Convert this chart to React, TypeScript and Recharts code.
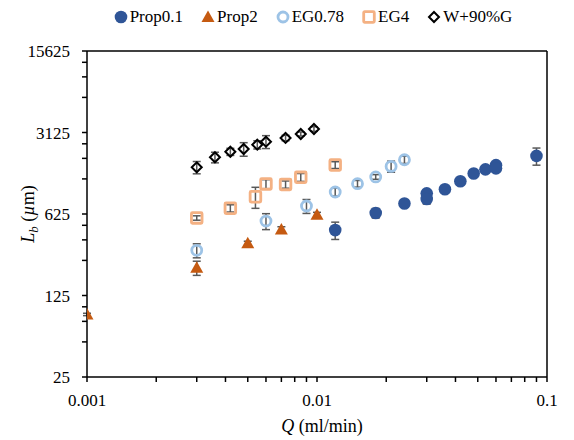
import {
  ScatterChart,
  Scatter,
  XAxis,
  YAxis,
  ErrorBar,
  Legend,
  ReferenceLine,
  Label,
} from 'recharts';

const FONT = "'Liberation Serif', 'Times New Roman', Times, serif";

// axis ticks (log axes: labelled majors + unlabelled minors)
const X_MAJOR = [0.001, 0.01, 0.1];
const Y_MAJOR = [25, 125, 625, 3125, 15625];
const X_MINOR_STEPS = [2, 3, 4, 5, 6, 7, 8, 9];
const Y_MINOR_STEPS = [2, 3, 4];

// Prop0.1
const PROP01_Q = [0.012, 0.018, 0.024, 0.03, 0.03, 0.036, 0.042, 0.048, 0.054, 0.06, 0.06, 0.09];
const PROP01_L = [455, 637, 769, 940, 840, 1018, 1192, 1391, 1510, 1640, 1540, 1969];
const PROP01_ERR = [77, 60, 50, 60, 80, 55, 50, 60, 60, 80, 70, 330];

// Prop2
const PROP2_Q = [0.001, 0.003, 0.005, 0.007, 0.01];
const PROP2_L = [86, 216, 350, 461, 616];
const PROP2_ERR = [2, 30, 15, 25, 30];

// EG0.78
const EG078_Q = [0.003, 0.006, 0.009, 0.012, 0.015, 0.018, 0.021, 0.024];
const EG078_L = [305, 544, 732, 965, 1137, 1300, 1600, 1825];
const EG078_ERR = [42, 85, 100, 75, 75, 60, 175, 130];

// EG4
const EG4_Q = [0.003, 0.0042, 0.0054, 0.006, 0.0073, 0.0085, 0.012];
const EG4_L = [578, 700, 879, 1131, 1120, 1290, 1645];
const EG4_ERR = [25, 50, 180, 100, 80, 100, 110];

// W+90%G
const WG_Q = [0.003, 0.0036, 0.0042, 0.0048, 0.0055, 0.006, 0.0073, 0.0085, 0.0097];
const WG_L = [1572, 1916, 2137, 2256, 2456, 2606, 2806, 3036, 3350];
const WG_ERR = [190, 200, 150, 300, 200, 330, 150, 120, 150];

const toRows = (q: number[], l: number[], e: number[]) =>
  q.map((v, i) => ({ q: v, l: l[i], e: e[i] }));

const X_TICKS = X_MAJOR.flatMap((m, i) =>
  i < X_MAJOR.length - 1 ? [m, ...X_MINOR_STEPS.map((s) => m * s)] : [m]
);
const Y_TICKS = Y_MAJOR.flatMap((m, i) =>
  i < Y_MAJOR.length - 1 ? [m, ...Y_MINOR_STEPS.map((s) => m * s)] : [m]
);

const shapes: Record<string, (cx: number, cy: number) => JSX.Element> = {
  dot: (cx, cy) => <circle cx={cx} cy={cy} r={6.3} fill="#2F5597" />,
  triangle: (cx, cy) => (
    <polygon
      points={`${cx},${cy - 6.5} ${cx + 6.5},${cy + 5} ${cx - 6.5},${cy + 5}`}
      fill="#C55A11"
    />
  ),
  ring: (cx, cy) => (
    <circle cx={cx} cy={cy} r={5} fill="none" stroke="#9DC3E6" strokeWidth={2.8} />
  ),
  square: (cx, cy) => (
    <rect
      x={cx - 5.3}
      y={cy - 5.3}
      width={10.6}
      height={10.6}
      rx={1}
      fill="none"
      stroke="#F4B183"
      strokeWidth={2.8}
    />
  ),
  diamond: (cx, cy) => (
    <polygon
      points={`${cx},${cy - 5} ${cx + 5},${cy} ${cx},${cy + 5} ${cx - 5},${cy}`}
      fill="none"
      stroke="#000"
      strokeWidth={2}
    />
  ),
};

const SERIES = [
  { name: 'Prop0.1', kind: 'dot', data: toRows(PROP01_Q, PROP01_L, PROP01_ERR) },
  { name: 'Prop2', kind: 'triangle', data: toRows(PROP2_Q, PROP2_L, PROP2_ERR) },
  { name: 'EG0.78', kind: 'ring', data: toRows(EG078_Q, EG078_L, EG078_ERR) },
  { name: 'EG4', kind: 'square', data: toRows(EG4_Q, EG4_L, EG4_ERR) },
  { name: 'W+90%G', kind: 'diamond', data: toRows(WG_Q, WG_L, WG_ERR) },
];

const renderXTick = ({ x, y, payload }: any) =>
  X_MAJOR.includes(payload.value) ? (
    <text x={x} y={y} dy="0.71em" textAnchor="middle" style={{ fontFamily: FONT }} fontSize={17} fill="#000">
      {payload.value}
    </text>
  ) : (
    <g />
  );

const renderYTick = ({ x, y, payload }: any) =>
  Y_MAJOR.includes(payload.value) ? (
    <text x={x} y={y} dy="0.355em" textAnchor="end" style={{ fontFamily: FONT }} fontSize={17} fill="#000">
      {payload.value}
    </text>
  ) : (
    <g />
  );

const XTitle = ({ viewBox }: any) => (
  <text
    x={viewBox.x + viewBox.width / 2 + 5}
    y={432}
    textAnchor="middle"
    style={{ fontFamily: FONT }}
    fontSize={18}
    fill="#000"
  >
    <tspan fontStyle="italic">Q</tspan>
    <tspan> (ml/min)</tspan>
  </text>
);

const YTitle = ({ viewBox }: any) => (
  <text
    transform={`translate(34, ${viewBox.y + viewBox.height / 2}) rotate(-90)`}
    textAnchor="middle"
    style={{ fontFamily: FONT }}
    fontSize={18}
    fill="#000"
  >
    <tspan fontStyle="italic">L</tspan>
    <tspan fontStyle="italic" fontSize={13} dy={4}>b</tspan>
    <tspan dy={-4}> (</tspan>
    <tspan fontStyle="italic">µ</tspan>
    <tspan>m)</tspan>
  </text>
);

const LegendContent = () => (
  <div
    style={{
      height: 51,
      boxSizing: 'border-box',
      paddingTop: 6,
      paddingLeft: 70,
      display: 'flex',
      justifyContent: 'center',
      alignItems: 'flex-start',
      fontFamily: FONT,
      fontSize: 17,
      color: '#000',
    }}
  >
    {SERIES.map((s) => (
      <div key={s.name} style={{ display: 'flex', alignItems: 'center', height: 22, marginRight: 18 }}>
        <svg width={14} height={14} style={{ overflow: 'visible' }}>
          {shapes[s.kind](7, 7)}
        </svg>
        <span style={{ marginLeft: 2 }}>{s.name}</span>
      </div>
    ))}
  </div>
);

export default function App() {
  return (
    <div style={{ width: 574, height: 440, background: '#fff', fontFamily: FONT }}>
      <style>{'body{margin:0}'}</style>
      <ScatterChart
        width={574}
        height={440}
        margin={{ top: 0, right: 27, bottom: 18, left: 20 }}
        style={{ fontFamily: FONT }}
      >
        <XAxis
          type="number"
          dataKey="q"
          scale="log"
          domain={[0.001, 0.1]}
          allowDataOverflow
          ticks={X_TICKS}
          interval={0}
          tick={renderXTick}
          tickSize={5}
          tickMargin={12}
          height={45}
          axisLine={{ stroke: '#000', strokeWidth: 1.5 }}
          tickLine={{ stroke: '#000', strokeWidth: 1.5 }}
        >
          <Label content={XTitle} />
        </XAxis>
        <YAxis
          type="number"
          dataKey="l"
          scale="log"
          domain={[25, 15625]}
          allowDataOverflow
          ticks={Y_TICKS}
          interval={0}
          tick={renderYTick}
          tickSize={5}
          tickMargin={12}
          width={67}
          axisLine={{ stroke: '#000', strokeWidth: 1.5 }}
          tickLine={{ stroke: '#000', strokeWidth: 1.5 }}
        >
          <Label content={YTitle} />
        </YAxis>
        <ReferenceLine y={15625} stroke="#000" strokeWidth={1.5} />
        <ReferenceLine x={0.1} stroke="#000" strokeWidth={1.5} />
        <Legend
          verticalAlign="top"
          content={<LegendContent />}
          wrapperStyle={{ left: 0, top: 0, width: 574 }}
        />
        {SERIES.map((s) => (
          <Scatter
            key={s.name}
            name={s.name}
            data={s.data}
            isAnimationActive={false}
            shape={(p: any) => shapes[s.kind](p.cx, p.cy)}
          >
            <ErrorBar dataKey="e" direction="y" width={4} stroke="#595959" strokeWidth={1.5} />
          </Scatter>
        ))}
      </ScatterChart>
    </div>
  );
}
